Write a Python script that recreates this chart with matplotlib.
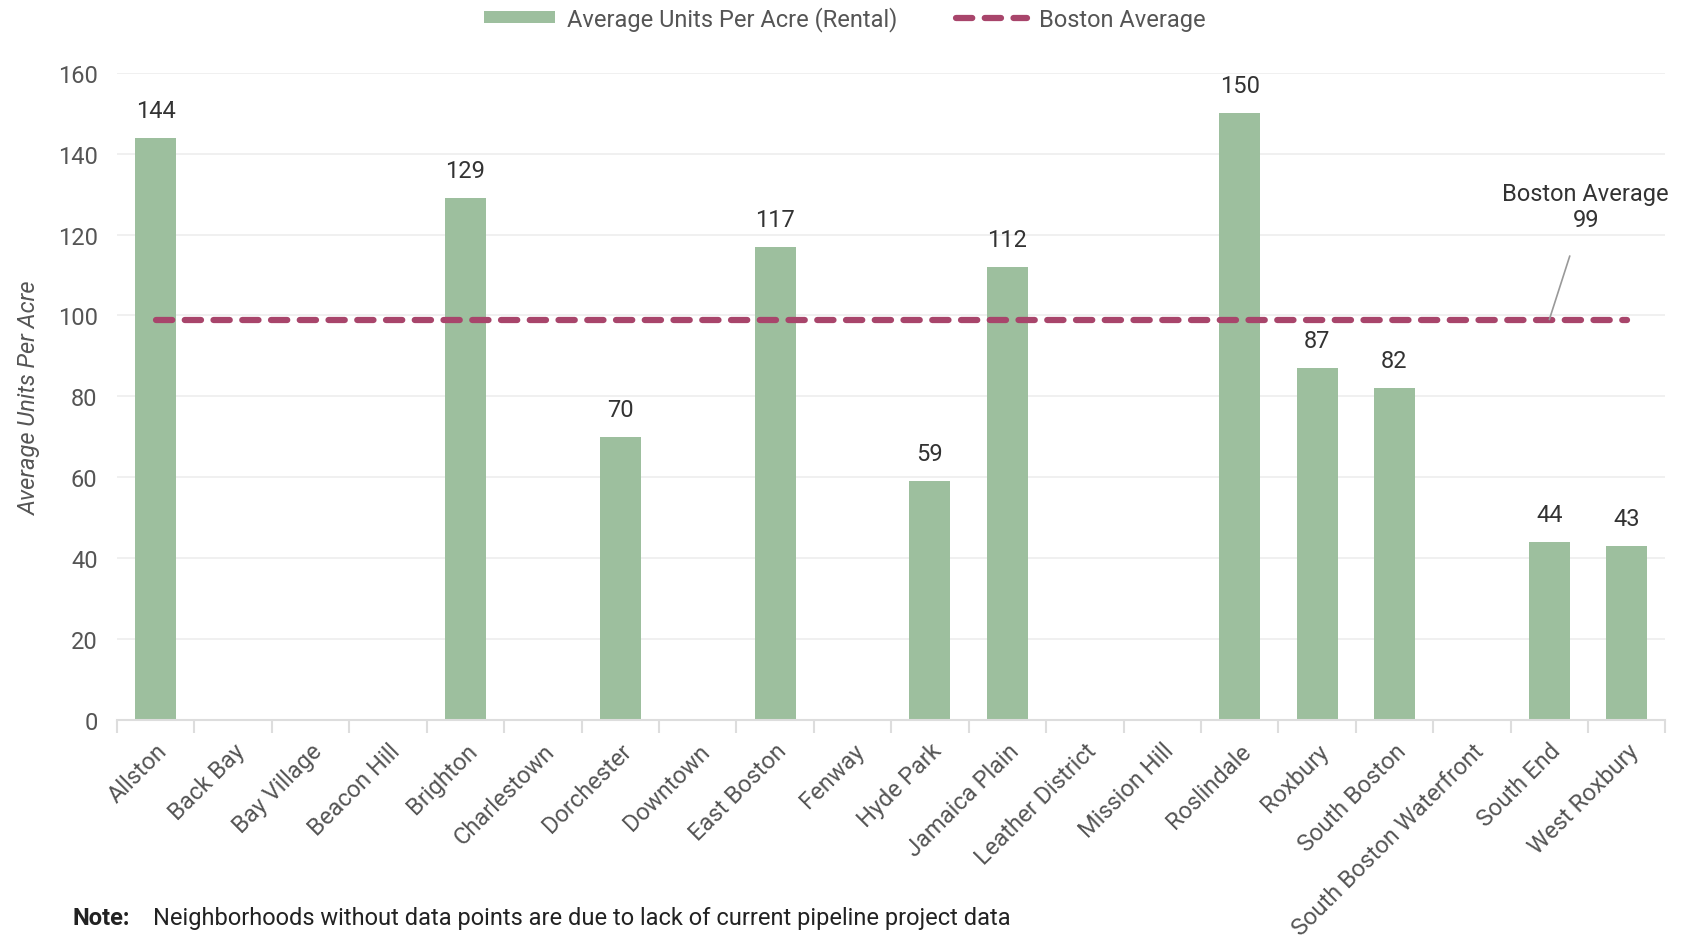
import matplotlib.pyplot as plt
import numpy as np

neighborhoods = [
    "Allston", "Back Bay", "Bay Village", "Beacon Hill", "Brighton",
    "Charlestown", "Dorchester", "Downtown", "East Boston", "Fenway",
    "Hyde Park", "Jamaica Plain", "Leather District", "Mission Hill",
    "Roslindale", "Roxbury", "South Boston", "South Boston Waterfront",
    "South End", "West Roxbury",
]
units_per_acre = [144, None, None, None, 129, None, 70, None, 117, None,
                  59, 112, None, None, 150, 87, 82, None, 44, 43]
boston_average = 99
yticks = [0, 20, 40, 60, 80, 100, 120, 140, 160]

bar_color = "#9dbf9e"
line_color = "#a8456b"
text_color = "#555555"

plt.rcParams["font.family"] = ["Roboto", "DejaVu Sans"]

fig, ax = plt.subplots(figsize=(16.96, 9.37), dpi=100)
fig.subplots_adjust(left=0.069, right=0.982, top=0.921, bottom=0.231)

x = np.arange(len(neighborhoods))
vals = np.array([np.nan if v is None else v for v in units_per_acre], dtype=float)
bars = ax.bar(x, np.nan_to_num(vals), width=0.53, color=bar_color,
              linewidth=0, label="Average Units Per Acre (Rental)", zorder=2)

for xi, v in zip(x, vals):
    if not np.isnan(v):
        ax.text(xi, v + 4, f"{v:.0f}", ha="center", va="bottom",
                fontsize=17, color="#333333")

line, = ax.plot([x[0], x[-1]], [boston_average] * 2, color=line_color, lw=4.5,
                dashes=(2.6, 2.0), dash_capstyle="round",
                label="Boston Average", zorder=3)

ax.annotate(f"Boston Average\n{boston_average}", xy=(18, boston_average),
            xytext=(18.47, 127), ha="center", va="center", fontsize=17,
            color="#333333", linespacing=1.15,
            arrowprops=dict(arrowstyle="-", color="#999999", lw=1.2,
                            shrinkA=17, shrinkB=0))

ax.set_xlim(-0.5, len(neighborhoods) - 0.5)
ax.set_ylim(0, 160)
ax.set_yticks(yticks)
ax.tick_params(axis="y", length=0, labelsize=17, labelcolor=text_color, pad=14)
ax.grid(axis="y", color="#eeeeee", lw=1.2, zorder=0)
ax.set_axisbelow(True)

ax.set_xticks(x)
ax.set_xticklabels(neighborhoods, rotation=45, ha="right",
                   rotation_mode="anchor", fontsize=17, color=text_color)
ax.tick_params(axis="x", which="major", length=0, pad=14)
ax.set_xticks(np.arange(-0.5, len(neighborhoods)), minor=True)
ax.tick_params(axis="x", which="minor", length=9, color="#dddddd", width=1.5)

for side in ["top", "right", "left"]:
    ax.spines[side].set_visible(False)
ax.spines["bottom"].set_color("#dddddd")
ax.spines["bottom"].set_linewidth(1.5)

ax.set_ylabel("Average Units Per Acre", fontsize=17, color=text_color,
              fontstyle="italic", labelpad=12)

ax.legend([bars, line], ["Average Units Per Acre (Rental)", "Boston Average"],
          loc="lower center", bbox_to_anchor=(0.47, 1.032), ncol=2,
          frameon=False, fontsize=17, labelcolor=text_color,
          handlelength=3.0, handleheight=0.45, handletextpad=0.5,
          columnspacing=2.5)

fig.text(0.043, 0.008, "Note:", fontsize=17, color="#222222",
         fontweight="bold", va="bottom", ha="left")
fig.text(0.090, 0.008, "Neighborhoods without data points are due to lack of "
         "current pipeline project data", fontsize=17, color="#222222",
         va="bottom", ha="left")

fig.savefig("out.png", dpi=100)
